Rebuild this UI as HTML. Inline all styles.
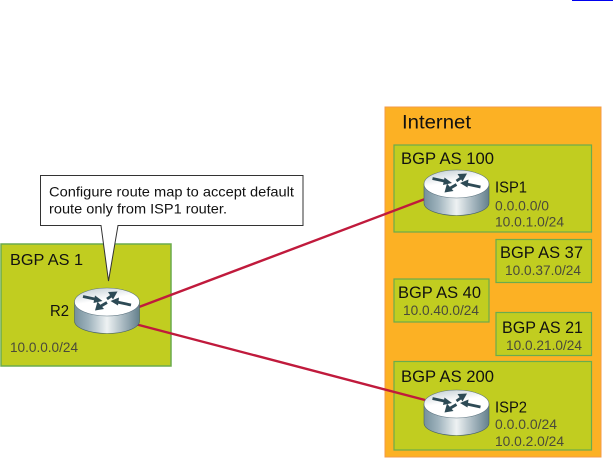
<!DOCTYPE html>
<html>
<head>
<meta charset="utf-8">
<style>
html,body{margin:0;padding:0;background:#fff;width:613px;height:458px;overflow:hidden}
svg{display:block;position:absolute;left:0;top:0}
text{font-family:"Liberation Sans",sans-serif}
.d{fill:#111}
.g{fill:#4a4a3a}
</style>
</head>
<body>
<svg width="613" height="458" viewBox="0 0 613 458" xmlns="http://www.w3.org/2000/svg">
<defs>
<linearGradient id="body" x1="0" x2="1" y1="0" y2="0">
<stop offset="0" stop-color="#75909c"/>
<stop offset="0.22" stop-color="#9fb3bd"/>
<stop offset="0.5" stop-color="#eef2f3"/>
<stop offset="0.78" stop-color="#9fb1ba"/>
<stop offset="1" stop-color="#64808c"/>
</linearGradient>
<linearGradient id="top" x1="0.2" x2="0.6" y1="0" y2="1">
<stop offset="0" stop-color="#c4d0d6"/>
<stop offset="0.45" stop-color="#ffffff"/>
<stop offset="1" stop-color="#ffffff"/>
</linearGradient>
<g id="router">
<path d="M-32.500 0 V19 A32.500 12.500 0 0 0 32.500 19 V0 Z" fill="url(#body)" stroke="#46606c" stroke-width="0.6"/>
<ellipse cx="0" cy="0" rx="32.500" ry="14" fill="url(#top)" stroke="#5d7480" stroke-width="0.6"/>
<g stroke="#2d4a55" stroke-width="2.800" fill="#2d4a55">
<path d="M-24 -5.500 L-10 -2.500" fill="none"/><path d="M-4.500 -1 L-12 -6.500 L-13.500 1 Z" stroke="none"/>
<path d="M0 -3 L5 -6.500" fill="none"/><path d="M10.500 -10.500 L1 -10 L6 -2.500 Z" stroke="none"/>
<path d="M0 0.500 L-6 4" fill="none"/><path d="M-12 8.500 L-9.500 -0.500 L-3 7 Z" stroke="none"/>
<path d="M24 3 L10 0" fill="none"/><path d="M3.500 -1 L12 -4.500 L11 3.500 Z" stroke="none"/>
</g>
</g>
</defs>

<rect x="1" y="244" width="170" height="122" fill="#c1cd20" stroke="#6bab4d" stroke-width="1.500"/>
<rect x="385" y="107" width="216" height="350" fill="#fcb124" stroke="#f49a45" stroke-width="1"/>
<rect x="394" y="145" width="197.500" height="87" fill="#c1cd20" stroke="#6bab4d" stroke-width="1.200"/>
<rect x="496" y="239.500" width="95.500" height="43" fill="#c1cd20" stroke="#6bab4d" stroke-width="1.200"/>
<rect x="394" y="279" width="95" height="43" fill="#c1cd20" stroke="#6bab4d" stroke-width="1.200"/>
<rect x="496" y="312.500" width="95.500" height="43" fill="#c1cd20" stroke="#6bab4d" stroke-width="1.200"/>
<rect x="394" y="361.500" width="197.500" height="88.500" fill="#c1cd20" stroke="#6bab4d" stroke-width="1.200"/>

<path d="M139 307 L425 199" stroke="#c01a3c" stroke-width="2.400" fill="none"/>
<path d="M137 324.500 L425 400" stroke="#c01a3c" stroke-width="2.400" fill="none"/>

<path d="M40.500 175.500 H303 V225.500 H118 L108.500 281 L101 225.500 H40.500 Z" fill="#fff" stroke="#333" stroke-width="1"/>
<text x="49" y="196.500" font-size="14" class="d" textLength="245" lengthAdjust="spacingAndGlyphs">Configure route map to accept default</text>
<text x="49" y="213.500" font-size="14" class="d" textLength="178" lengthAdjust="spacingAndGlyphs">route only from ISP1 router.</text>

<use href="#router" x="107" y="302"/>
<use href="#router" x="456.500" y="184"/>
<use href="#router" x="456.500" y="404"/>

<text x="10" y="265" font-size="16" class="d" textLength="73" lengthAdjust="spacingAndGlyphs">BGP AS 1</text>
<text x="50" y="316" font-size="16" class="d" textLength="19" lengthAdjust="spacingAndGlyphs">R2</text>
<text x="10" y="352" font-size="14" class="g" textLength="68" lengthAdjust="spacingAndGlyphs">10.0.0.0/24</text>

<text x="402" y="128.500" font-size="19.500" class="d" textLength="69" lengthAdjust="spacingAndGlyphs">Internet</text>

<text x="401" y="164" font-size="16.400" class="d" textLength="93" lengthAdjust="spacingAndGlyphs">BGP AS 100</text>
<text x="495" y="192.500" font-size="16" class="d" textLength="32" lengthAdjust="spacingAndGlyphs">ISP1</text>
<text x="495" y="210.500" font-size="14" class="g" textLength="54" lengthAdjust="spacingAndGlyphs">0.0.0.0/0</text>
<text x="495" y="226.500" font-size="14" class="g" textLength="69" lengthAdjust="spacingAndGlyphs">10.0.1.0/24</text>

<text x="500" y="258" font-size="16.400" class="d" textLength="83" lengthAdjust="spacingAndGlyphs">BGP AS 37</text>
<text x="505" y="275" font-size="14" class="g" textLength="76" lengthAdjust="spacingAndGlyphs">10.0.37.0/24</text>

<text x="398" y="298" font-size="16.400" class="d" textLength="83" lengthAdjust="spacingAndGlyphs">BGP AS 40</text>
<text x="403" y="315" font-size="14" class="g" textLength="76" lengthAdjust="spacingAndGlyphs">10.0.40.0/24</text>

<text x="502" y="333" font-size="16.400" class="d" textLength="81" lengthAdjust="spacingAndGlyphs">BGP AS 21</text>
<text x="506" y="350" font-size="14" class="g" textLength="76" lengthAdjust="spacingAndGlyphs">10.0.21.0/24</text>

<text x="401" y="382" font-size="16.400" class="d" textLength="93" lengthAdjust="spacingAndGlyphs">BGP AS 200</text>
<text x="495" y="412.500" font-size="16" class="d" textLength="32" lengthAdjust="spacingAndGlyphs">ISP2</text>
<text x="495" y="429" font-size="14" class="g" textLength="62" lengthAdjust="spacingAndGlyphs">0.0.0.0/24</text>
<text x="495" y="446" font-size="14" class="g" textLength="69" lengthAdjust="spacingAndGlyphs">10.0.2.0/24</text>

<rect x="572" y="0" width="41" height="1" fill="#0000ee"/>
</svg>
</body>
</html>
